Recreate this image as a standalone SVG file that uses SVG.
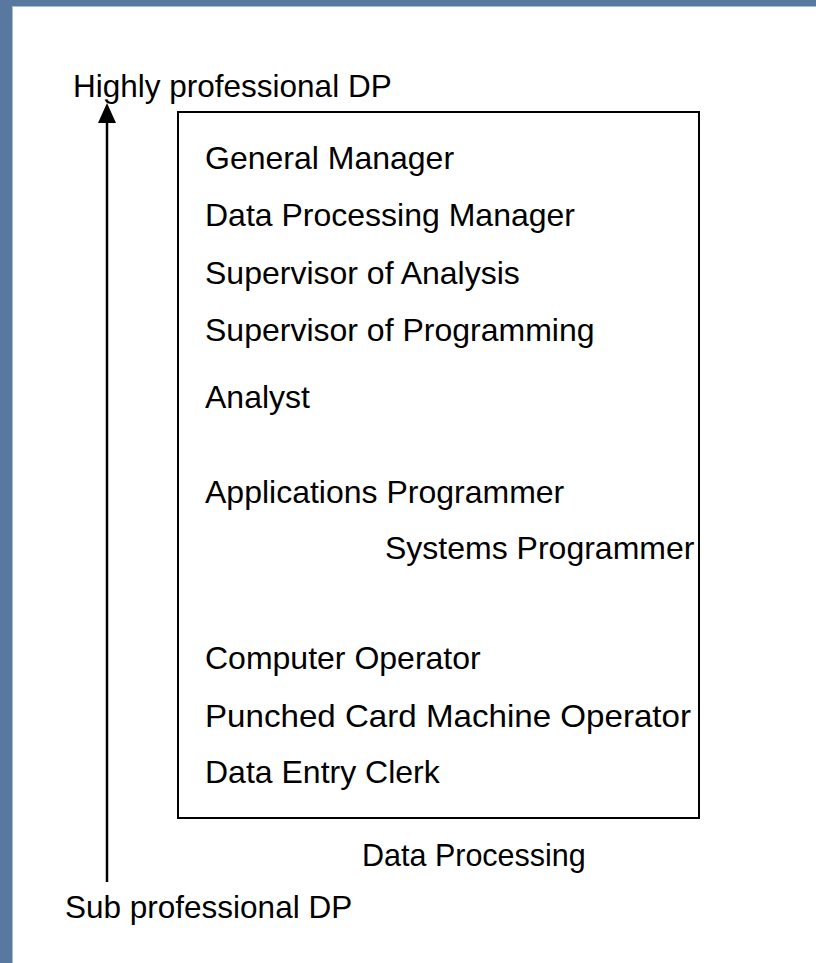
<svg xmlns="http://www.w3.org/2000/svg" width="816" height="963" viewBox="0 0 816 963">
<style>
text { font-family: "Liberation Sans", Arial, sans-serif; font-size: 31.5px; fill: #000; }
.item { font-size: 32px; }
.box { fill: none; stroke: #000; stroke-width: 2; }
.conn { stroke: #000; stroke-width: 2.5; fill: none; }
</style>
<rect x="0" y="0" width="816" height="963" fill="#5878a0"/>
<rect x="12" y="6" width="804" height="957" fill="#ffffff"/>
<line x1="12" y1="6.5" x2="816" y2="6.5" stroke="#a9bdd3" stroke-width="1"/>
<line x1="12.5" y1="6" x2="12.5" y2="963" stroke="#a9bdd3" stroke-width="1"/>
<g id="connectors">
<line class="conn" x1="107" y1="882" x2="107" y2="120"/>
<path d="M98,123 L107,103 L116,123 Z" fill="#000"/>
</g>
<g id="label-top"><text x="73" y="97">Highly professional DP</text></g>
<g id="label-bottom"><text x="65" y="918">Sub professional DP</text></g>
<g id="dp-box">
<rect class="box" x="178" y="112" width="521" height="706"/>
<text class="item" x="205" y="169">General Manager</text>
<text class="item" x="205" y="226">Data Processing Manager</text>
<text class="item" x="205" y="284">Supervisor of Analysis</text>
<text class="item" x="205" y="341">Supervisor of Programming</text>
<text class="item" x="205" y="408">Analyst</text>
<text class="item" x="205" y="503">Applications Programmer</text>
<text class="item" x="385" y="559">Systems Programmer</text>
<text class="item" x="205" y="669">Computer Operator</text>
<text class="item" x="205" y="727" textLength="486" lengthAdjust="spacingAndGlyphs">Punched Card Machine Operator</text>
<text class="item" x="205" y="783">Data Entry Clerk</text>
</g>
<g id="label-box"><text x="362" y="866" style="font-size:30.5px">Data Processing</text></g>
</svg>
